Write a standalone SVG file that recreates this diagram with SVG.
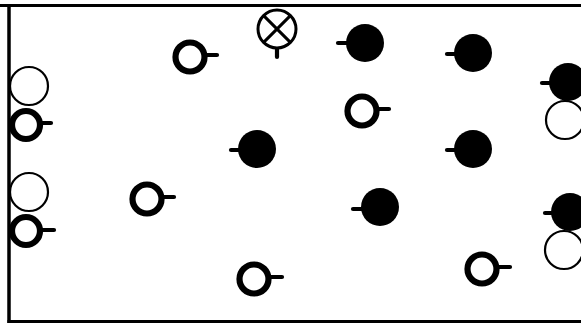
<svg xmlns="http://www.w3.org/2000/svg" width="581" height="323" viewBox="0 0 581 323">
<style>
.thin{fill:#fff;stroke:#000;stroke-width:2.2}
.ring{fill:#fff;stroke:#000;stroke-width:6.2}
.dot{fill:#000;stroke:none}
.stub{stroke:#000;stroke-width:4.2;stroke-linecap:round;fill:none}
.xc{fill:#fff;stroke:#000;stroke-width:3}
.frame{fill:none;stroke:#000}
</style>
<rect width="581" height="323" fill="#fff"/>
<g id="frame">
<line class="frame" x1="0" y1="5.5" x2="581" y2="5.5" stroke-width="3"/>
<line class="frame" x1="9" y1="4" x2="9" y2="323" stroke-width="3.5"/>
<line class="frame" x1="7.5" y1="321.5" x2="581" y2="321.5" stroke-width="3"/>
</g>
<g id="nodes">
<g id="o1"><circle class="thin" cx="29" cy="86" r="19"/></g>
<g id="o2"><circle class="thin" cx="29" cy="192" r="19"/></g>
<g id="r1"><line class="stub" x1="40" y1="123" x2="51" y2="123"/><circle class="ring" cx="26" cy="125" r="14"/></g>
<g id="r2"><line class="stub" x1="40" y1="230" x2="54" y2="230"/><circle class="ring" cx="26" cy="231" r="14"/></g>
<g id="r3"><line class="stub" x1="204" y1="55" x2="217" y2="55"/><circle class="ring" cx="190" cy="57" r="14.5"/></g>
<g id="r4"><line class="stub" x1="376" y1="109" x2="389" y2="109"/><circle class="ring" cx="362" cy="111" r="14.5"/></g>
<g id="r5"><line class="stub" x1="161" y1="197" x2="174" y2="197"/><circle class="ring" cx="147" cy="199" r="14.5"/></g>
<g id="r6"><line class="stub" x1="268" y1="277" x2="282" y2="277"/><circle class="ring" cx="254" cy="279" r="14.5"/></g>
<g id="r7"><line class="stub" x1="496" y1="267" x2="510" y2="267"/><circle class="ring" cx="482" cy="269" r="14.5"/></g>
<g id="f1"><line class="stub" x1="338" y1="43" x2="350" y2="43"/><circle class="dot" cx="365" cy="43" r="19"/></g>
<g id="f2"><line class="stub" x1="447" y1="54" x2="458" y2="54"/><circle class="dot" cx="473" cy="53" r="19"/></g>
<g id="f3"><line class="stub" x1="542" y1="83" x2="553" y2="83"/><circle class="dot" cx="568" cy="82" r="19"/></g>
<g id="f4"><line class="stub" x1="231" y1="150" x2="242" y2="150"/><circle class="dot" cx="257" cy="149" r="19"/></g>
<g id="f5"><line class="stub" x1="447" y1="150" x2="458" y2="150"/><circle class="dot" cx="473" cy="149" r="19"/></g>
<g id="f6"><line class="stub" x1="353" y1="209" x2="365" y2="209"/><circle class="dot" cx="380" cy="207" r="19"/></g>
<g id="f7"><line class="stub" x1="545" y1="213" x2="556" y2="213"/><circle class="dot" cx="570" cy="212" r="19"/></g>
<g id="o3"><circle class="thin" cx="565" cy="120" r="19"/></g>
<g id="o4"><circle class="thin" cx="564" cy="250" r="19"/></g>
<g id="x1"><line class="stub" x1="277" y1="48" x2="277" y2="57" stroke-width="3"/><circle class="xc" cx="277" cy="29" r="19"/><line x1="263.6" y1="15.6" x2="290.4" y2="42.4" stroke="#000" stroke-width="3"/><line x1="290.4" y1="15.6" x2="263.6" y2="42.4" stroke="#000" stroke-width="3"/></g>
</g>
</svg>
